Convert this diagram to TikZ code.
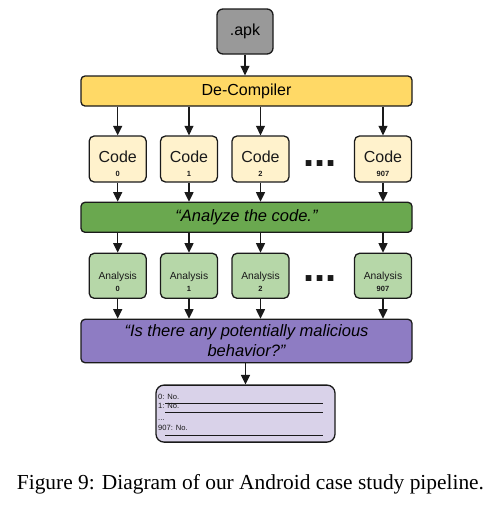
\documentclass[tikz,border=0pt]{standalone}
\usepackage{fontspec}
\setmainfont{Liberation Sans}
\newfontfamily\capfont{Liberation Serif}
\usetikzlibrary{arrows.meta}
\definecolor{ln}{HTML}{1A1A1A}
\definecolor{apkc}{HTML}{999999}
\definecolor{decc}{HTML}{FFD966}
\definecolor{codec}{HTML}{FFF2CC}
\definecolor{anac}{HTML}{6AA84F}
\definecolor{anbc}{HTML}{B6D7A8}
\definecolor{purc}{HTML}{8E7CC3}
\definecolor{resc}{HTML}{D9D2E9}
\tikzset{
  box/.style={draw=ln, line width=1.3pt, rounded corners=5pt, inner sep=0pt},
  bar/.style={box, rounded corners=4pt, minimum width=331pt},
  small/.style={box, minimum width=57pt},
  conn/.style={draw=ln, line width=1.2pt, -{Triangle[length=9.5pt,width=9pt]}},
  txt/.style={inner sep=0pt, text=ln},
  dig/.style={txt, font=\fontsize{7.5}{8}\selectfont\bfseries},
  dots/.style={txt, font=\fontsize{40}{40}\selectfont\bfseries},
  resl/.style={txt, anchor=base west, font=\fontsize{7.6}{8}\selectfont},
}
\begin{document}
\begin{tikzpicture}[x=1pt,y=-1pt]
\useasboundingbox (0,0) rectangle (499,507);
% top
\node[box, fill=apkc, rounded corners=6pt, minimum width=56pt, minimum height=45pt,
      font=\fontsize{16}{18}\selectfont] (apk) at (245,31.5) {.apk};
\node[bar, fill=decc, minimum height=30pt, font=\fontsize{16}{18}\selectfont] (dec) at (246.5,91) {De-Compiler};
\draw[conn] (apk.south) -- (apk.south |- dec.north);
% code boxes
\foreach \n/\x/\d in {0/117.7/0, 1/189/1, 2/260.5/2, 3/383/907} {
  \node[small, fill=codec, minimum height=46pt] (c\n) at (\x,159) {};
  \node[txt, font=\fontsize{16}{18}\selectfont] (ct\n) at (\x,157) {Code};
  \node[dig] (cd\n) at (\x,173.5) {\d};
}
\node[dots] (dotsa) at (320,163.3) {...};
% green bar
\node[bar, fill=anac, minimum height=30pt, font=\fontsize{16.5}{18}\selectfont\itshape] (ana) at (246.5,217.3) {“Analyze the code.”};
\foreach \n in {0,1,2,3} {
  \draw[conn] (dec.south -| c\n.north) -- (c\n.north);
  \draw[conn] (c\n.south) -- (c\n.south |- ana.north);
}
% analysis boxes
\foreach \n/\x/\d in {0/117.7/0, 1/189/1, 2/260.5/2, 3/383/907} {
  \node[small, fill=anbc, minimum height=45pt] (a\n) at (\x,275.8) {};
  \node[txt, font=\fontsize{10.3}{12}\selectfont] (at\n) at (\x,276.5) {Analysis};
  \node[dig] (ad\n) at (\x,289.3) {\d};
}
\node[dots] (dotsb) at (320,279) {...};
% purple bar
\node[bar, fill=purc, minimum height=43.4pt, align=center,
      font=\fontsize{16.5}{20}\selectfont\itshape] (pur) at (246.5,341) {“Is there any potentially malicious\\behavior?”};
\foreach \n in {0,1,2,3} {
  \draw[conn] (ana.south -| a\n.north) -- (a\n.north);
  \draw[conn] (a\n.south) -- (a\n.south |- pur.north);
}
% result
\node[box, fill=resc, rounded corners=8pt, minimum width=179pt, minimum height=57pt] (res) at (245.5,413.6) {};
\draw[conn] (pur.south -| res.north) -- (res.north);
\node[resl] (r0) at (158,399.3) {0: No.};
\node[resl] (r1) at (158,408.3) {1: No.};
\node[resl] (r2) at (158,420) {...};
\node[resl] (r3) at (158,430) {907: No.};
\draw[ln, line width=0.9pt] (165,403.3) -- (323,403.3);
\draw[ln, line width=0.9pt] (165,412.3) -- (323,412.3);
\draw[ln, line width=0.9pt] (165,435) -- (323,435);
% caption
\node[txt, text=black, anchor=base, font=\capfont\fontsize{21.4}{24}\selectfont] (cap) at (250.5,489.3) {Figure 9: Diagram of our Android case study pipeline.};
\end{tikzpicture}
\end{document}
